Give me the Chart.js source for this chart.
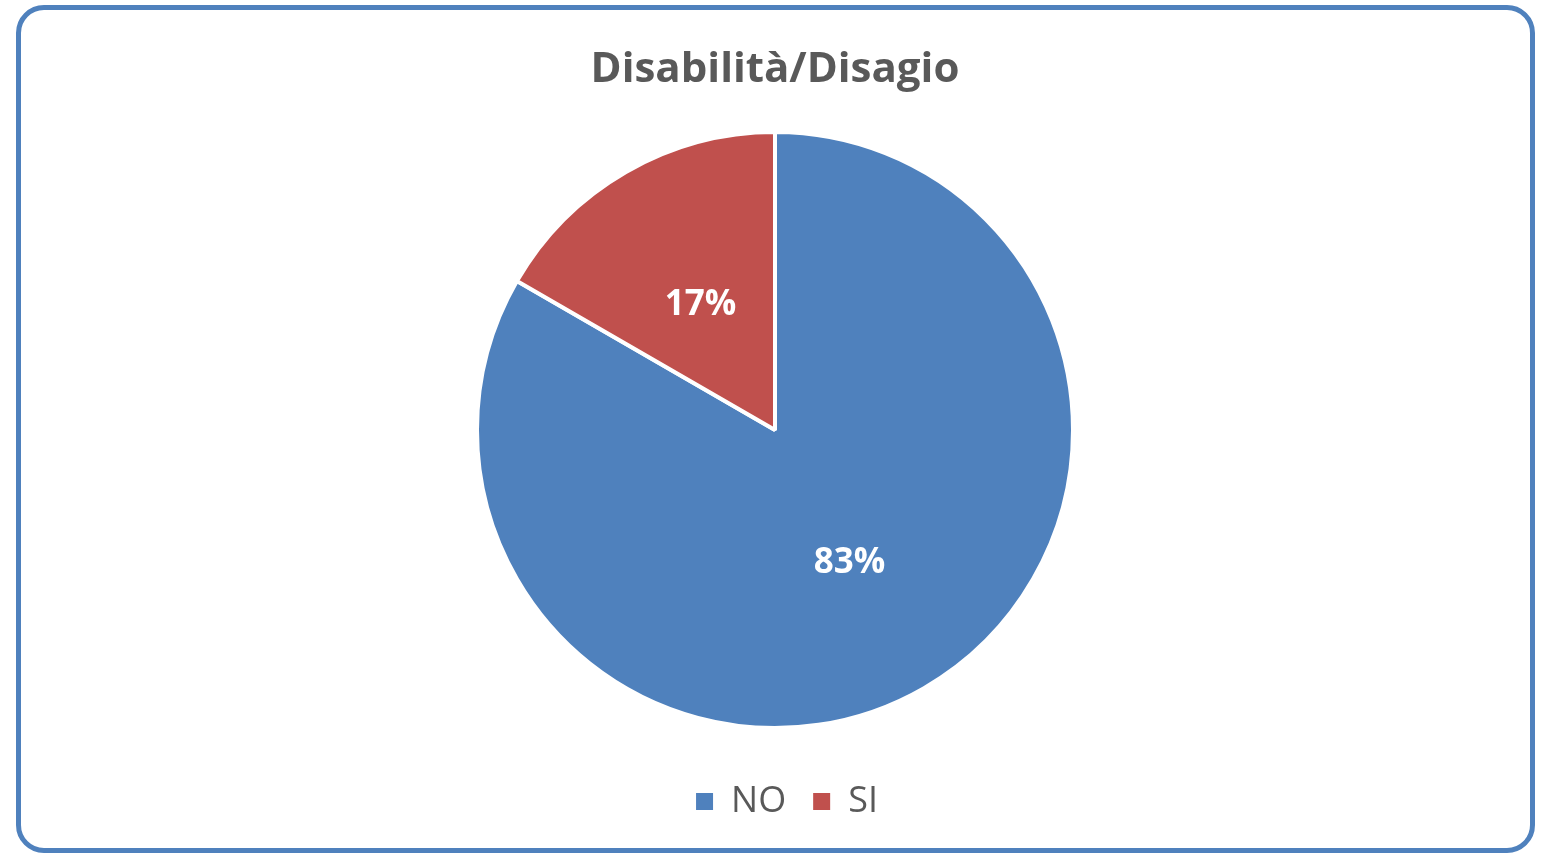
<!DOCTYPE html>
<html>
<head>
<meta charset="utf-8">
<script src="https://cdn.jsdelivr.net/npm/chart.js@4/dist/chart.umd.min.js"></script>
<style>
  html, body { margin: 0; padding: 0; background: #ffffff; }
  #frame {
    position: absolute; left: 16px; top: 5px; width: 1509px; height: 838px;
    border: 5px solid #4F81BD; border-radius: 28px; background: #ffffff;
  }
  #c { position: absolute; left: 0; top: 0; }
</style>
</head>
<body>
<div id="frame"></div>
<canvas id="c" width="1548" height="853"></canvas>
<script>
const title = 'Disabilità/Disagio';
const categories = ['NO', 'SI'];
const values = [10, 2];
const colors = ['#4F81BD', '#C0504D'];

const pctLabels = {
  id: 'pctLabels',
  afterDatasetsDraw(chart) {
    const ctx = chart.ctx;
    const meta = chart.getDatasetMeta(0);
    const data = chart.data.datasets[0].data;
    const total = data.reduce((a, b) => a + b, 0);
    ctx.save();
    ctx.fillStyle = '#ffffff';
    ctx.font = 'bold 35px "Open Sans", "Noto Sans", sans-serif';
    ctx.textAlign = 'center';
    ctx.textBaseline = 'middle';
    meta.data.forEach((arc, i) => {
      const p = arc.tooltipPosition();
      ctx.fillText(Math.round(data[i] / total * 100) + '%', p.x, p.y + 4);
    });
    ctx.restore();
  }
};

const legendShift = {
  id: 'legendShift',
  afterLayout(chart) {
    if (chart.legend) { chart.legend.left += 12; chart.legend.right += 12; }
  }
};

new Chart(document.getElementById('c'), {
  type: 'pie',
  data: {
    labels: categories,
    datasets: [{
      data: values,
      backgroundColor: colors,
      borderColor: '#ffffff',
      borderWidth: 4,
      radius: 298
    }]
  },
  options: {
    responsive: false,
    animation: false,
    layout: { padding: { top: 0, bottom: 23.5, left: 2, right: 0 } },
    plugins: {
      tooltip: { enabled: false },
      title: {
        display: true,
        text: title,
        color: '#595959',
        font: { family: '"Open Sans", "Noto Sans", sans-serif', size: 42, weight: 'bold' },
        padding: { top: 44.8, bottom: 8.4 }
      },
      legend: {
        position: 'bottom',
        labels: {
          color: '#595959',
          font: { family: '"Open Sans", "Noto Sans", sans-serif', size: 36 },
          boxWidth: 17,
          boxHeight: 17,
          padding: 27,
          generateLabels: (chart) =>
            Chart.overrides.doughnut.plugins.legend.labels.generateLabels(chart)
              .map(l => Object.assign(l, { lineWidth: 0, strokeStyle: 'rgba(0,0,0,0)' }))
        }
      }
    }
  },
  plugins: [pctLabels, legendShift]
});
</script>
</body>
</html>
